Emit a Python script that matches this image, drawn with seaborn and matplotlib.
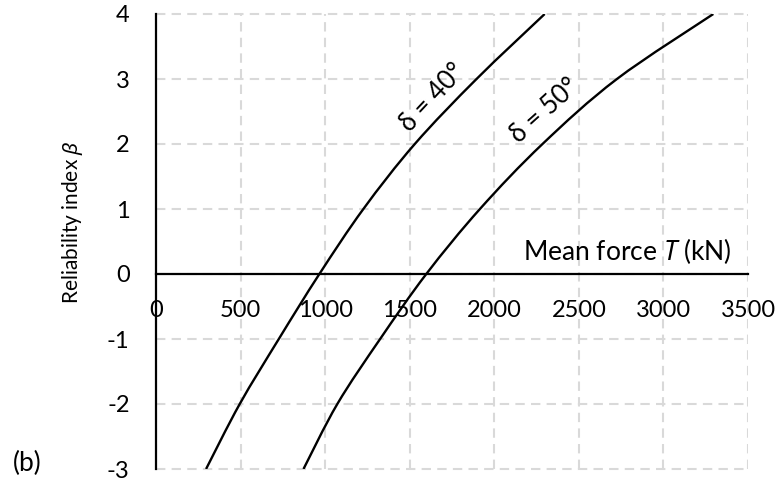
import matplotlib
matplotlib.use("Agg")
import matplotlib.pyplot as plt
from matplotlib.path import Path
from matplotlib.patches import PathPatch
import seaborn as sns
import pandas as pd
import numpy as np

# ---- data ----
beta_40 = [-3, -2, -1, 0, 1, 2, 3, 4]
force_40 = [296, 495, 726, 966, 1226, 1530, 1895, 2298]
beta_50 = [-3, -2, -1, 0, 1, 2, 3, 4]
force_50 = [872, 1072, 1325, 1598, 1915, 2285, 2725, 3295]
x_ticks = [0, 500, 1000, 1500, 2000, 2500, 3000, 3500]
x_tick_labels = ["0", "500", "1000", "1500", "2000", "2500", "3000", "3500"]
y_ticks = [-3, -2, -1, 0, 1, 2, 3, 4]
y_tick_labels = ["-3", "-2", "-1", "0", "1", "2", "3", "4"]
series_labels = ["δ = 40°", "δ = 50°"]

df = pd.concat([
    pd.DataFrame({"T": force_40, "beta": beta_40, "series": series_labels[0]}),
    pd.DataFrame({"T": force_50, "beta": beta_50, "series": series_labels[1]}),
])

sns.set_theme(style="white")
plt.rcParams["font.family"] = ["Lato", "Noto Sans", "DejaVu Sans"]
plt.rcParams["mathtext.fontset"] = "custom"
plt.rcParams["mathtext.it"] = "Noto Sans:italic"
plt.rcParams["mathtext.rm"] = "Lato"

fig = plt.figure(figsize=(7.81, 4.80), dpi=100)
ax = fig.add_axes([156 / 781, 1 - 469 / 480, 592 / 781, 455 / 480])

sns.lineplot(data=df, x="T", y="beta", units="series", estimator=None, sort=False,
             color="black", lw=1.7, ax=ax, zorder=3)


def smooth_path(xy):
    """Excel-style smoothed line: cubic Bezier (Catmull-Rom) through the points."""
    pts = np.asarray(xy, dtype=float)
    n = len(pts)
    verts = [pts[0]]
    codes = [Path.MOVETO]
    for i in range(n - 1):
        p0 = pts[i - 1] if i > 0 else pts[i]
        p1 = pts[i]
        p2 = pts[i + 1]
        p3 = pts[i + 2] if i + 2 < n else pts[i + 1]
        c1 = p1 + (p2 - p0) / 6.0
        c2 = p2 - (p3 - p1) / 6.0
        verts += [c1, c2, p2]
        codes += [Path.CURVE4] * 3
    return Path(verts, codes)


# replace the polylines by smoothed curves through the same data points
for ln in list(ax.get_lines()):
    xy = ln.get_xydata()
    patch = PathPatch(smooth_path(xy), facecolor="none", edgecolor="black",
                      lw=1.7, zorder=3, capstyle="butt")
    ax.add_patch(patch)
    ln.set_visible(False)

ax.set_xlim(0, 3500)
ax.set_ylim(-3, 4)
ax.set_xticks(x_ticks)
ax.set_xticklabels(x_tick_labels)
ax.set_yticks(y_ticks)
ax.set_yticklabels(y_tick_labels)
ax.set_xlabel("")
ax.set_ylabel("")

ax.grid(True, color="#d9d9d9", lw=1.5, linestyle=(0, (4.5, 3)))
for gl in ax.get_xgridlines() + ax.get_ygridlines():
    gl.set_clip_on(False)
ax.set_axisbelow(True)

for s in ["top", "right"]:
    ax.spines[s].set_visible(False)
ax.spines["bottom"].set_position(("data", 0))
for s in ["left", "bottom"]:
    ax.spines[s].set_linewidth(1.6)
    ax.spines[s].set_color("black")

ax.tick_params(axis="x", direction="in", length=5, width=1.6, color="black",
               pad=19, labelsize=17, labelcolor="black")
ax.tick_params(axis="y", direction="in", length=5, width=1.6, color="black",
               pad=19, labelsize=17, labelcolor="black")

ax.set_ylabel(r"Reliability index $\beta$", fontsize=15, color="black")
ax.yaxis.set_label_coords(-0.12, 0.543)

ax.text(3404, 0.36, r"Mean force $T$ (kN)", ha="right", va="center",
        fontsize=19, color="black")

ax.text(1636, 2.71, series_labels[0], rotation=47, ha="center", va="center",
        fontsize=18.5, color="black", rotation_mode="anchor")
ax.text(2300, 2.51, series_labels[1], rotation=42, ha="center", va="center",
        fontsize=18.5, color="black", rotation_mode="anchor")

fig.text(13 / 781, 1 - 463 / 480, "(b)", ha="left", va="center", fontsize=19, color="black")

fig.savefig("out.png", dpi=100)
